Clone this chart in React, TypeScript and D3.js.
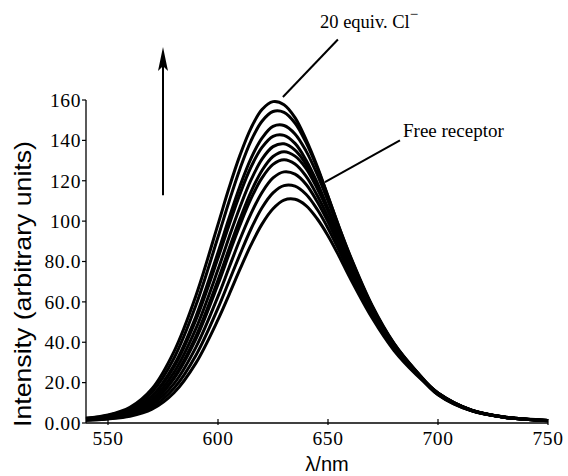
import React from "react";
import * as d3 from "d3";

// emission spectra during the Cl- titration
const wavelengths = [540, 550, 560, 570, 580, 590, 600, 605, 610, 615, 620, 625, 630, 635, 640, 645, 650, 655, 660, 670, 680, 690, 700, 715, 730, 750];

const freeReceptor = [1.3, 2.0, 3.3, 6.8, 15.0, 29.8, 51.2, 63.5, 76.2, 88.2, 98.5, 106.1, 110.4, 110.8, 107.7, 101.3, 92.8, 82.7, 71.9, 52.1, 35.9, 24.1, 14.9, 6.3, 2.9, 1.1];
const step1 = [1.4, 2.1, 3.8, 7.8, 17.2, 33.6, 56.9, 70.2, 83.5, 96.1, 106.6, 114.0, 117.6, 117.3, 113.3, 106.0, 96.5, 85.6, 74.1, 53.5, 36.6, 24.5, 14.9, 6.4, 3.0, 1.2];
const step2 = [1.6, 2.4, 4.2, 9.0, 19.5, 37.6, 62.7, 76.9, 91.0, 103.7, 114.2, 121.4, 124.4, 123.3, 118.3, 109.8, 99.6, 87.8, 75.8, 54.4, 37.1, 24.9, 14.7, 6.5, 2.9, 1.1];
const step3 = [1.7, 2.6, 4.7, 10.0, 22.0, 41.7, 68.7, 83.6, 98.1, 111.1, 121.4, 128.1, 130.4, 128.3, 122.3, 112.9, 102.0, 89.5, 76.9, 54.9, 37.3, 24.9, 14.3, 6.3, 2.9, 1.2];
const step4 = [1.7, 2.7, 4.8, 10.3, 22.7, 43.0, 70.8, 86.2, 101.1, 114.5, 125.1, 132.0, 134.4, 132.2, 126.1, 116.4, 105.1, 92.2, 79.3, 56.6, 38.4, 25.7, 14.8, 6.5, 3.0, 1.2];
const step5 = [1.9, 2.9, 5.5, 11.6, 25.1, 46.9, 76.0, 91.9, 107.0, 120.4, 130.7, 136.9, 138.3, 135.2, 128.2, 117.6, 105.6, 92.3, 79.2, 56.2, 38.2, 25.3, 14.4, 6.4, 2.9, 1.2];
const step6 = [2.0, 3.1, 6.1, 13.0, 27.7, 51.2, 81.7, 98.0, 113.5, 126.8, 136.5, 142.0, 142.5, 138.5, 130.3, 119.3, 106.3, 92.5, 79.3, 55.9, 38.0, 25.0, 14.1, 6.1, 2.9, 1.1];
const step7 = [2.1, 3.3, 6.4, 13.4, 28.7, 52.9, 84.5, 101.4, 117.4, 131.1, 141.1, 146.9, 147.4, 143.2, 134.8, 123.4, 110.0, 95.6, 82.0, 57.8, 39.3, 25.9, 14.6, 6.4, 3.0, 1.2];
const step8 = [2.3, 3.7, 7.1, 15.3, 32.1, 58.4, 92.1, 109.6, 126.0, 139.8, 149.5, 154.3, 153.9, 148.6, 139.0, 126.6, 112.2, 97.2, 83.1, 58.4, 39.5, 25.7, 14.4, 6.3, 2.9, 1.2];
const equiv20 = [2.4, 4.0, 7.8, 17.0, 35.4, 63.2, 98.4, 116.4, 132.7, 146.1, 155.3, 159.2, 157.7, 151.3, 140.5, 127.4, 112.3, 97.0, 82.7, 57.8, 39.0, 25.2, 14.0, 6.1, 2.9, 1.3];

const spectra = [freeReceptor, step1, step2, step3, step4, step5, step6, step7, step8, equiv20];

const xTicks = [550, 600, 650, 700, 750];
const yTicks = [0, 20, 40, 60, 80, 100, 120, 140, 160];
const yTickLabels = ["0.00", "20.0", "40.0", "60.0", "80.0", "100", "120", "140", "160"];

// annotations, in data units: [lambda, intensity]
const equivPointer = [[654.5, 190], [629.5, 161.5]];
const freePointer = [[682.7, 140], [648.6, 119.3]];
const arrowPath = [[575, 112.8], [575, 186.3]];

const W = 568;
const H = 476;
const LEFT = 86;
const RIGHT = 548;
const TOP = 100;
const BOTTOM = 423;

const serif = "'Liberation Serif', 'Times New Roman', serif";
const sans = "'Liberation Sans', Arial, sans-serif";

export default function App() {
  const x = d3.scaleLinear().domain([540, 750]).range([LEFT, RIGHT]);
  const y = d3.scaleLinear().domain([0, 160]).range([BOTTOM, TOP]);

  const line = d3
    .line<number>()
    .x((_, i) => x(wavelengths[i]))
    .y(v => y(v))
    .curve(d3.curveCatmullRom.alpha(0.5));

  const ax = x(arrowPath[0][0]);
  const aBottom = y(arrowPath[0][1]);
  const aTip = y(arrowPath[1][1]);

  return (
    <svg
      width={W}
      height={H}
      style={{ position: "absolute", left: 0, top: 0, background: "#fff" }}
    >
      <rect width={W} height={H} fill="#fff" />

      {spectra.map((s, i) => (
        <path key={i} d={line(s)!} fill="none" stroke="#000" strokeWidth={3} />
      ))}

      {/* axes */}
      <line x1={LEFT} x2={LEFT} y1={TOP} y2={BOTTOM} stroke="#000" strokeWidth={1.3} />
      <line x1={LEFT} x2={RIGHT} y1={BOTTOM} y2={BOTTOM} stroke="#000" strokeWidth={1.3} />

      {yTicks.map((v, i) => (
        <g key={v} transform={`translate(${LEFT}, ${y(v)})`}>
          <line x1={-4} x2={0} stroke="#000" strokeWidth={1.2} />
          <text
            x={-5}
            dy="0.35em"
            textAnchor="end"
            fontFamily={serif}
            fontSize={19.5}
            letterSpacing={0.6}
          >
            {yTickLabels[i]}
          </text>
        </g>
      ))}

      {xTicks.map(v => (
        <g key={v} transform={`translate(${x(v)}, ${BOTTOM})`}>
          <line y1={-4} y2={2} stroke="#000" strokeWidth={1.2} />
          <text
            y={22}
            textAnchor="middle"
            fontFamily={serif}
            fontSize={19.5}
            letterSpacing={0.6}
          >
            {v}
          </text>
        </g>
      ))}

      <text
        transform={`translate(31, 284) rotate(-90)`}
        textAnchor="middle"
        fontFamily={sans}
        fontSize={24}
        textLength={286}
        lengthAdjust="spacingAndGlyphs"
      >
        Intensity (arbitrary units)
      </text>
      <text x={327} y={471} textAnchor="middle" fontFamily={sans} fontSize={20}>
        λ/nm
      </text>

      {/* annotations */}
      <line
        x1={x(equivPointer[0][0])}
        y1={y(equivPointer[0][1])}
        x2={x(equivPointer[1][0])}
        y2={y(equivPointer[1][1])}
        stroke="#000"
        strokeWidth={2}
      />
      <text x={320} y={28} fontFamily={serif} fontSize={18.5}>
        20 equiv. Cl
        <tspan dy={-9} fontSize={15}>
          −
        </tspan>
      </text>

      <line
        x1={x(freePointer[0][0])}
        y1={y(freePointer[0][1])}
        x2={x(freePointer[1][0])}
        y2={y(freePointer[1][1])}
        stroke="#000"
        strokeWidth={2}
      />
      <text x={403} y={137} fontFamily={serif} fontSize={19}>
        Free receptor
      </text>

      <line x1={ax} x2={ax} y1={aBottom} y2={aTip + 15} stroke="#000" strokeWidth={2} />
      <path
        d={`M${ax},${aTip} L${ax - 5},${aTip + 24} L${ax},${aTip + 19} L${ax + 5},${aTip + 24} Z`}
        fill="#000"
      />
    </svg>
  );
}
